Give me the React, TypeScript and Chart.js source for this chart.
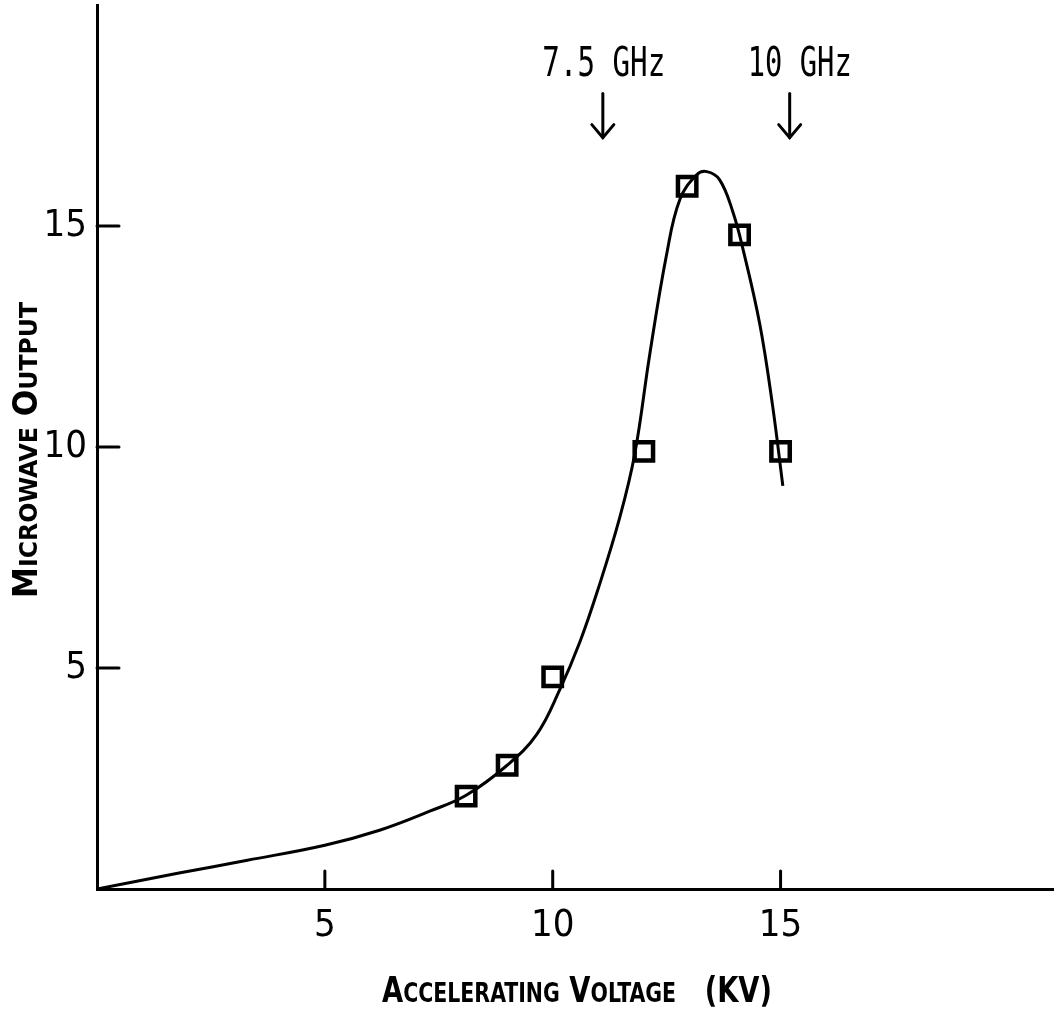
import React, { useEffect, useRef } from "react";
import { Chart, registerables } from "chart.js";

Chart.register(...registerables);

// ---- data ----
const curveX = [0, 1.8, 3.3, 5.0, 6.2, 7.3, 8.1, 9.0, 9.65, 10.15, 10.6, 11.0, 11.47, 11.8, 12.13, 12.5, 12.79, 13.16, 13.38, 13.66, 13.95, 14.17, 14.54, 14.82, 15.05];
const curveY = [0, 0.36, 0.65, 0.99, 1.33, 1.76, 2.12, 2.8, 3.5, 4.5, 5.6, 6.8, 8.4, 9.84, 12.1, 14.36, 15.6, 16.16, 16.23, 16.05, 15.33, 14.5, 12.8, 10.97, 9.12];
const pointsX = [8.1, 9.0, 10.0, 12.0, 12.95, 14.1, 15.0];
const pointsY = [2.1, 2.8, 4.8, 9.9, 15.9, 14.8, 9.9];
const xTicks = [5, 10, 15];
const yTicks = [5, 10, 15];
const xTitle = "Accelerating Voltage   (KV)";
const yTitle = "Microwave Output";
const annotLabels = ["7.5 GHz", "10 GHz"];
const annotLabelX = [11.12, 15.42];
const annotArrowX = [11.1, 15.2];
const annotLabelY = 18.4;
const annotArrowTop = 18.0;
const annotArrowBottom = 17.0;

const TICK_FONT = '"Liberation Sans Narrow", "DejaVu Sans Condensed", "Noto Sans", sans-serif';
const TITLE_FONT = '"Liberation Sans Narrow", "DejaVu Sans Condensed", sans-serif';
const MONO_FONT = '"DejaVu Sans Mono", "Liberation Mono", monospace';

function smallCapsParts(text: string) {
  const parts: { t: string; big: boolean }[] = [];
  for (const ch of text) {
    const big = !(ch >= "a" && ch <= "z");
    const t = big ? ch : ch.toUpperCase();
    const last = parts[parts.length - 1];
    if (last && last.big === big) last.t += t;
    else parts.push({ t, big });
  }
  return parts;
}

function drawSmallCaps(
  ctx: CanvasRenderingContext2D,
  text: string,
  cx: number,
  cy: number,
  bigSize: number,
  smallSize: number,
  targetWidth: number,
  rotate: number
) {
  const parts = smallCapsParts(text);
  let total = 0;
  const widths: number[] = [];
  for (const p of parts) {
    ctx.font = `bold ${p.big ? bigSize : smallSize}px ${TITLE_FONT}`;
    const w = ctx.measureText(p.t).width;
    widths.push(w);
    total += w;
  }
  ctx.save();
  ctx.translate(cx, cy);
  ctx.rotate(rotate);
  ctx.scale(targetWidth / total, 1);
  ctx.textBaseline = "alphabetic";
  ctx.textAlign = "left";
  ctx.fillStyle = "#000";
  let x = -total / 2;
  parts.forEach((p, i) => {
    ctx.font = `bold ${p.big ? bigSize : smallSize}px ${TITLE_FONT}`;
    ctx.fillText(p.t, x, 0);
    x += widths[i];
  });
  ctx.restore();
}

function drawMono(ctx: CanvasRenderingContext2D, text: string, cx: number, baseY: number, size: number, targetWidth: number) {
  ctx.save();
  ctx.font = `${size}px ${MONO_FONT}`;
  const w = ctx.measureText(text).width;
  ctx.translate(cx, baseY);
  ctx.scale(targetWidth / w, 1);
  ctx.textAlign = "center";
  ctx.textBaseline = "alphabetic";
  ctx.fillStyle = "#000";
  ctx.fillText(text, 0, 0);
  ctx.restore();
}

const overlayPlugin = {
  id: "overlay",
  afterDraw(chart: any) {
    const ctx: CanvasRenderingContext2D = chart.ctx;
    const xs = chart.scales.x;
    const ys = chart.scales.y;
    ctx.save();
    ctx.strokeStyle = "#000";
    ctx.lineWidth = 3;
    ctx.lineCap = "round";
    // inward tick marks
    for (const v of xTicks) {
      const px = xs.getPixelForValue(v);
      ctx.beginPath();
      ctx.moveTo(px, ys.bottom);
      ctx.lineTo(px, ys.bottom - 18);
      ctx.stroke();
    }
    for (const v of yTicks) {
      const py = ys.getPixelForValue(v);
      ctx.beginPath();
      ctx.moveTo(xs.left, py);
      ctx.lineTo(xs.left + 22, py);
      ctx.stroke();
    }
    // annotations with arrows
    annotLabels.forEach((lab, i) => {
      const lx = xs.getPixelForValue(annotLabelX[i]);
      const ly = ys.getPixelForValue(annotLabelY);
      drawMono(ctx, lab, lx, ly, 41, i === 0 ? 123 : 104);
      const ax = xs.getPixelForValue(annotArrowX[i]);
      const top = ys.getPixelForValue(annotArrowTop);
      const bot = ys.getPixelForValue(annotArrowBottom);
      ctx.beginPath();
      ctx.moveTo(ax, top);
      ctx.lineTo(ax, bot);
      ctx.stroke();
      ctx.beginPath();
      ctx.moveTo(ax - 11, bot - 13);
      ctx.lineTo(ax, bot);
      ctx.lineTo(ax + 11, bot - 13);
      ctx.stroke();
    });
    // axis titles (small caps)
    drawSmallCaps(ctx, xTitle, 577, 1002, 36, 27, 390, 0);
    drawSmallCaps(ctx, yTitle, 37, 450, 33, 25, 296, -Math.PI / 2);
    ctx.restore();
  },
};

function zeroPadding(scale: any) {
  scale.paddingTop = 0;
  scale.paddingBottom = 0;
  scale.paddingLeft = 0;
  scale.paddingRight = 0;
}

export default function App() {
  const ref = useRef<HTMLCanvasElement | null>(null);
  useEffect(() => {
    if (!ref.current) return;
    const chart = new Chart(ref.current, {
      type: "scatter",
      data: {
        datasets: [
          {
            label: "Measured",
            data: pointsX.map((x, i) => ({ x, y: pointsY[i] })),
            pointStyle: "rect",
            pointRadius: 13,
            pointBorderWidth: 4.5,
            pointBackgroundColor: "rgba(255,255,255,0)",
            pointBorderColor: "#000",
            showLine: false,
          } as any,
          {
            label: "Fit",
            data: curveX.map((x, i) => ({ x, y: curveY[i] })),
            showLine: true,
            borderColor: "#000",
            borderWidth: 3,
            pointRadius: 0,
            tension: 0.4,
            fill: false,
          } as any,
        ],
      },
      options: {
        animation: false,
        responsive: false,
        devicePixelRatio: 1,
        layout: { autoPadding: false, padding: { top: 5, left: 0, right: 0, bottom: 0 } },
        plugins: {
          legend: { display: false },
          tooltip: { enabled: false },
          title: { display: false },
        },
        scales: {
          x: {
            type: "linear",
            min: 0,
            max: 21,
            grid: { display: false },
            border: { display: true, color: "#000", width: 3 },
            title: { display: false, text: xTitle },
            afterBuildTicks: (scale: any) => {
              scale.ticks = xTicks.map((v) => ({ value: v }));
            },
            afterFit: (scale: any) => {
              scale.height = 127;
              zeroPadding(scale);
            },
            ticks: {
              color: "#000",
              padding: 6,
              maxRotation: 0,
              font: { family: TICK_FONT, size: 38 },
            },
          },
          y: {
            type: "linear",
            min: 0,
            max: 20,
            grid: { display: false },
            border: { display: true, color: "#000", width: 3 },
            title: { display: false, text: yTitle },
            afterBuildTicks: (scale: any) => {
              scale.ticks = yTicks.map((v) => ({ value: v }));
            },
            afterFit: (scale: any) => {
              scale.width = 97;
              zeroPadding(scale);
            },
            ticks: {
              color: "#000",
              padding: 2,
              font: { family: TICK_FONT, size: 38 },
            },
          },
        },
      },
      plugins: [overlayPlugin],
    });
    return () => chart.destroy();
  }, []);
  return (
    <div style={{ position: "absolute", left: 0, top: 0, width: 1054, height: 1016, background: "#fff" }}>
      <canvas ref={ref} width={1054} height={1016} style={{ width: 1054, height: 1016, display: "block" }} />
    </div>
  );
}
